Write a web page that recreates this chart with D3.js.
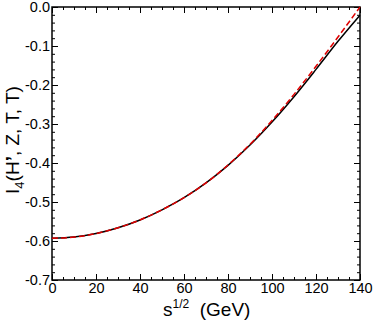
<!DOCTYPE html>
<html>
<head>
<meta charset="utf-8">
<script src="https://cdn.jsdelivr.net/npm/d3@7"></script>
<style>
body { margin: 0; background: #fff; }
text { font-family: "Liberation Sans", Arial, sans-serif; }
</style>
</head>
<body>
<div class="chart"></div>
<script>
// values
const sqrtS = [0, 10, 20, 30, 40, 50, 60, 70, 80, 90, 100, 110, 120, 130, 140];
const full = [-0.593, -0.590, -0.581, -0.566, -0.546, -0.520, -0.489, -0.451, -0.406, -0.354, -0.295, -0.230, -0.160, -0.088, -0.021];
const approx = [-0.593, -0.590, -0.581, -0.566, -0.546, -0.520, -0.489, -0.451, -0.405, -0.352, -0.291, -0.224, -0.152, -0.077, 0.0];
const xTicks = [0, 20, 40, 60, 80, 100, 120, 140];
const yTicks = [0.0, -0.1, -0.2, -0.3, -0.4, -0.5, -0.6, -0.7];

const w = 374;
const h = 325;
const padL = 52, padR = 360, padT = 7, padB = 280;

const xScale = d3.scaleLinear().domain([0, 140]).range([padL, padR]);
const yScale = d3.scaleLinear().domain([-0.7, 0]).range([padB, padT]);

const svg = d3.select('div.chart')
  .append('svg')
  .attr('width', w)
  .attr('height', h);

const xMinor = d3.range(0, 141, 5);
const yMinor = d3.range(-70, 1, 2).map((v) => v / 100);

function tickAxis(axis, g) {
  g.call(axis);
  g.select('.domain').remove();
  g.selectAll('line').attr('stroke', '#000').attr('stroke-width', 1);
}

// minor ticks (inward on all four sides)
tickAxis(d3.axisBottom(xScale).tickValues(xMinor).tickSize(-3).tickFormat(''),
  svg.append('g').attr('transform', 'translate(0,' + padB + ')'));
tickAxis(d3.axisTop(xScale).tickValues(xMinor).tickSize(-3).tickFormat(''),
  svg.append('g').attr('transform', 'translate(0,' + padT + ')'));
tickAxis(d3.axisLeft(yScale).tickValues(yMinor).tickSize(-3).tickFormat(''),
  svg.append('g').attr('transform', 'translate(' + padL + ',0)'));
tickAxis(d3.axisRight(yScale).tickValues(yMinor).tickSize(-3).tickFormat(''),
  svg.append('g').attr('transform', 'translate(' + padR + ',0)'));

// major ticks
const xAxis = svg.append('g').attr('transform', 'translate(0,' + padB + ')');
tickAxis(d3.axisBottom(xScale).tickValues(xTicks).tickSize(-6).tickPadding(3).tickFormat(d3.format('d')), xAxis);
tickAxis(d3.axisTop(xScale).tickValues(xTicks).tickSize(-6).tickFormat(''),
  svg.append('g').attr('transform', 'translate(0,' + padT + ')'));
const yAxis = svg.append('g').attr('transform', 'translate(' + padL + ',0)');
tickAxis(d3.axisLeft(yScale).tickValues(yTicks).tickSize(-6).tickPadding(2).tickFormat(d3.format('.1f')), yAxis);
tickAxis(d3.axisRight(yScale).tickValues(yTicks).tickSize(-6).tickFormat(''),
  svg.append('g').attr('transform', 'translate(' + padR + ',0)'));

svg.selectAll('.tick text')
  .attr('font-size', 14.5)
  .attr('fill', '#000')
  .style('font-family', '"Liberation Sans", Arial, sans-serif');
yAxis.selectAll('.tick text').text((d) => d === 0 ? '0.0' : d3.format('.1f')(d).replace('−', '-'));

// frame
svg.append('rect')
  .attr('x', padL).attr('y', padT)
  .attr('width', padR - padL).attr('height', padB - padT)
  .attr('fill', 'none').attr('stroke', '#000').attr('stroke-width', 1.5);

const line = d3.line()
  .x((d, i) => xScale(sqrtS[i]))
  .y((d) => yScale(d))
  .curve(d3.curveMonotoneX);

svg.append('path')
  .datum(full)
  .attr('d', line)
  .attr('fill', 'none')
  .attr('stroke', '#000')
  .attr('stroke-width', 1.5);

svg.append('path')
  .datum(approx)
  .attr('d', line)
  .attr('fill', 'none')
  .attr('stroke', '#e00000')
  .attr('stroke-width', 1.5)
  .attr('stroke-dasharray', '6,3');

// axis titles
const xt = svg.append('text')
  .attr('x', 163).attr('y', 316)
  .attr('font-size', 19);
xt.append('tspan').text('s');
xt.append('tspan').attr('font-size', 12).attr('dy', -8).text('1/2');
xt.append('tspan').attr('dy', 8).text('\u00a0\u00a0(GeV)');

const yt = svg.append('text')
  .attr('transform', 'translate(19,140) rotate(-90)')
  .attr('text-anchor', 'middle')
  .attr('font-size', 19);
yt.append('tspan').text('I');
yt.append('tspan').attr('font-size', 13).attr('dy', 5).text('4');
yt.append('tspan').attr('dy', -5).text('(H');
yt.append('tspan').attr('font-weight', 'bold').text('\u2019');
yt.append('tspan').text(', Z, T, T)');
</script>
</body>
</html>
